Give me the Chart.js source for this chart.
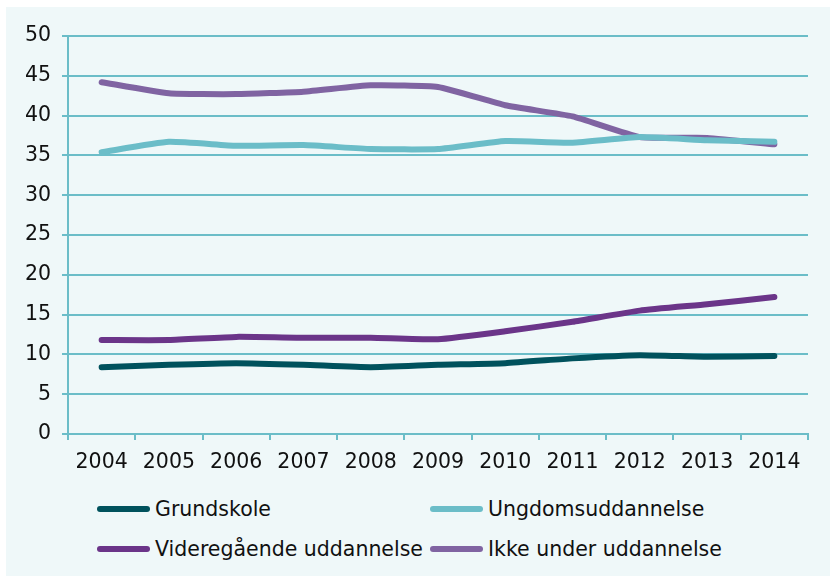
<!DOCTYPE html>
<html>
<head>
<meta charset="utf-8">
<script src="https://cdn.jsdelivr.net/npm/chart.js@4/dist/chart.umd.min.js"></script>
<style>
  html, body { margin: 0; padding: 0; background: #fff; }
  #wrap { position: absolute; left: 6px; top: 7px; width: 824px; height: 569px; background: #eff8f9; }
  #box { position: absolute; left: 0; top: 0; width: 824px; height: 470px; }
  .leg { position: absolute; font-family: "DejaVu Sans", sans-serif; font-size: 20.5px; color: #111; display: flex; align-items: center; white-space: nowrap; }
  .leg span.sw { display: inline-block; width: 53px; height: 6px; border-radius: 3px; margin-right: 5px; }
</style>
</head>
<body>
<div id="wrap">
  <div id="box"><canvas id="c"></canvas></div>
  <div id="legend"></div>
</div>
<script>
const years = ['2004', '2005', '2006', '2007', '2008', '2009', '2010', '2011', '2012', '2013', '2014'];
const grundskole = [8.4, 8.7, 8.9, 8.7, 8.4, 8.7, 8.9, 9.5, 9.9, 9.7, 9.8];
const ungdom = [35.4, 36.7, 36.2, 36.3, 35.8, 35.8, 36.8, 36.6, 37.3, 36.9, 36.7];
const videregaaende = [11.8, 11.8, 12.2, 12.1, 12.1, 11.9, 12.9, 14.1, 15.5, 16.3, 17.2];
const ikkeUnder = [44.2, 42.8, 42.7, 43.0, 43.8, 43.6, 41.3, 39.9, 37.3, 37.2, 36.4];

const gridColor = '#6bbdc8';
const font = { family: 'DejaVu Sans', size: 20.5 };

function ds(label, data, color) {
    return {
        label: label,
        data: data,
        borderColor: color,
        backgroundColor: color,
        borderWidth: 6,
        borderCapStyle: 'round',
        pointRadius: 0,
        tension: 0.15
    };
}

const datasets = [
    ds('Grundskole', grundskole, '#00525d'),
    ds('Ungdomsuddannelse', ungdom, '#6bbdc8'),
    ds('Videregående uddannelse', videregaaende, '#6b3589'),
    ds('Ikke under uddannelse', ikkeUnder, '#8064a2')
];

const ctx = document.getElementById('c').getContext('2d');
new Chart(ctx, {
    type: 'line',
    data: { labels: years, datasets: datasets },
    options: {
        responsive: true,
        maintainAspectRatio: false,
        animation: false,
        layout: { padding: { top: 29, right: 22, left: 0, bottom: 0 } },
        plugins: { legend: { display: false }, tooltip: { enabled: false } },
        scales: {
            x: {
                offset: true,
                grid: { offset: true, drawOnChartArea: false, drawTicks: true, tickLength: 6, color: gridColor, lineWidth: 2 },
                border: { display: true, color: gridColor, width: 2 },
                ticks: { color: '#111', font: font, padding: 10, maxRotation: 0 },
                afterFit: s => { s.height = 43; }
            },
            y: {
                min: 0,
                max: 50,
                ticks: { stepSize: 5, color: '#111', font: font, padding: 11 },
                grid: { color: gridColor, lineWidth: 2, tickLength: 6 },
                border: { display: true, color: gridColor, width: 2 },
                afterFit: s => { s.width = 62; }
            }
        }
    }
});

// two-column legend below the plot
const legPos = [[91, 490], [424, 490], [91, 530], [424, 530]];
const legend = document.getElementById('legend');
datasets.forEach((d, i) => {
    const el = document.createElement('div');
    el.className = 'leg';
    el.style.left = legPos[i][0] + 'px';
    el.style.top = legPos[i][1] + 'px';
    el.innerHTML = '<span class="sw" style="background:' + d.borderColor + '"></span>' + d.label;
    legend.appendChild(el);
});
</script>
</body>
</html>
